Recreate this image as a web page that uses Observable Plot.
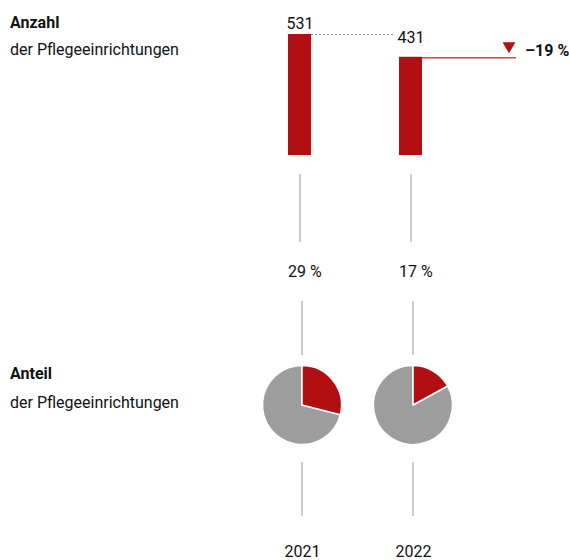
<!DOCTYPE html>
<html><head><meta charset="utf-8">
<script src="https://cdn.jsdelivr.net/npm/d3@7"></script>
<script src="https://cdn.jsdelivr.net/npm/@observablehq/plot@0.6"></script>
<style>body{margin:0;background:#fff}</style>
</head><body><div id="chart"></div>
<script>
const years = ["2021", "2022"];
const counts = [531, 431];
const shares = [29, 17];
const blockTitles = ["Anzahl", "Anteil"];
const blockSubtitles = ["der Pflegeeinrichtungen", "der Pflegeeinrichtungen"];

const RED = "#b20f13", GRAY = "#9d9d9d", LINE = "#a8a8a8", INK = "#111";
const FONT = "Roboto, sans-serif";
const FS = 16;
const data = years.map((y, i) => ({year: y, count: counts[i], share: shares[i]}));
const change = Math.round((counts[1] - counts[0]) / counts[0] * 100);

function decor(index, scales) {
  const x = scales.x, y = scales.y;
  const bw = x.bandwidth ? x.bandwidth() : 23;
  const cx = d => x(d) + bw / 2;
  const g = d3.create("svg:g").attr("font-family", FONT).attr("text-anchor", "start");
  // left block titles
  const titleY = [[28, 55], [379, 408]];
  blockTitles.forEach((t, i) => {
    g.append("text").attr("x", 10).attr("y", titleY[i][0]).attr("font-size", FS).attr("font-weight", 700).attr("fill", INK).text(t);
    g.append("text").attr("x", 10).attr("y", titleY[i][1]).attr("font-size", FS).attr("fill", INK).text(blockSubtitles[i]);
  });
  // dashed reference line from first bar
  g.append("line").attr("x1", x(years[0]) + bw).attr("x2", x(years[1]) - 4)
    .attr("y1", y(counts[0]) + 0.5).attr("y2", y(counts[0]) + 0.5)
    .attr("stroke", "#999").attr("stroke-dasharray", "2,2").attr("stroke-width", 1);
  // red change line
  const xr = x(years[1]) + bw;
  g.append("line").attr("x1", xr).attr("x2", xr + 94)
    .attr("y1", y(counts[1]) + 1).attr("y2", y(counts[1]) + 1)
    .attr("stroke", "#c9474a").attr("stroke-width", 1.5);
  const tx = xr + 87, ty = y(counts[1]) - 9;
  g.append("path").attr("d", `M${tx - 6.5},${ty - 5.5}L${tx + 6.5},${ty - 5.5}L${tx},${ty + 5.5}Z`).attr("fill", RED);
  g.append("text").attr("x", xr + 103).attr("y", y(counts[1]) - 1).attr("font-size", FS).attr("font-weight", 700)
    .attr("fill", INK).text(`–${Math.abs(change)} %`);
  // connectors, shares, pies, years
  years.forEach((yr, i) => {
    const c = cx(yr);
    const seg = (xx, a, b) => g.append("line").attr("x1", xx).attr("x2", xx).attr("y1", a).attr("y2", b).attr("stroke", LINE).attr("stroke-width", 1.2);
    seg(c + 0.5, 174, 242);
    seg(c + 2.5, 301, 355);
    seg(c + 2.5, 462, 516);
    g.append("text").attr("x", x(yr)).attr("y", 277).attr("font-size", FS).attr("fill", INK).text(`${shares[i]} %`);
    const pie = g.append("g").attr("transform", `translate(${c + 2.5},405)`);
    const arc = d3.arc().innerRadius(0).outerRadius(39.5);
    const a = shares[i] / 100 * 2 * Math.PI;
    pie.append("path").attr("d", arc({startAngle: a, endAngle: 2 * Math.PI})).attr("fill", GRAY).attr("stroke", "#fff").attr("stroke-width", 1.5).attr("stroke-linejoin", "round");
    pie.append("path").attr("d", arc({startAngle: 0, endAngle: a})).attr("fill", RED).attr("stroke", "#fff").attr("stroke-width", 1.5).attr("stroke-linejoin", "round");
    g.append("text").attr("x", c + 3).attr("y", 557).attr("text-anchor", "middle").attr("font-size", FS).attr("fill", INK).text(yr);
  });
  return g.node();
}

const chart = Plot.plot({
  width: 569,
  height: 560,
  margin: 0,
  style: {fontFamily: FONT, background: "#fff"},
  x: {type: "band", domain: years, range: [288, 422], paddingInner: 0.793, paddingOuter: 0, axis: null},
  y: {domain: [0, counts[0]], range: [155, 34], axis: null},
  marks: [
    Plot.barY(data, {x: "year", y: "count", fill: RED}),
    Plot.text(data.slice(0, 1), {x: "year", y: "count", text: d => String(d.count), lineAnchor: "bottom", dy: -6, fontSize: FS, fill: INK}),
    Plot.text(data.slice(1), {x: "year", y: "count", text: d => String(d.count), lineAnchor: "bottom", dy: -14, fontSize: FS, fill: INK}),
    decor
  ]
});
document.getElementById("chart").appendChild(chart);
</script>
</body></html>
